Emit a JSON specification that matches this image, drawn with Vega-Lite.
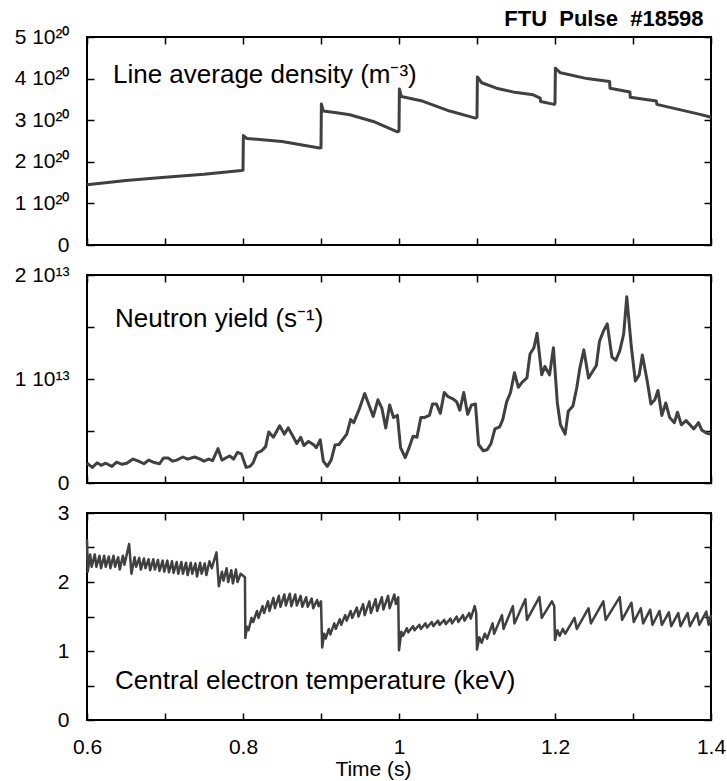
{
  "$schema": "https://vega.github.io/schema/vega-lite/v6.json",
  "background": "white",
  "padding": {"left": 13, "top": 8, "right": 10, "bottom": 2},
  "config": {
    "font": "Liberation Sans",
    "view": {"stroke": "black", "strokeWidth": 2},
    "axis": {"grid": false, "domain": false, "tickColor": "black", "tickWidth": 1.5, "tickSize": -7, "labelFlush": false,
      "labelFont": "Liberation Sans", "labelFontSize": 21, "labelColor": "black",
      "titleFont": "Liberation Sans", "titleFontWeight": "normal", "titleFontSize": 21, "titleColor": "black"}
  },
  "title": {"text": "FTU\u00a0\u00a0Pulse\u00a0\u00a0#18598", "anchor": "end", "fontSize": 22, "fontWeight": "bold", "font": "Liberation Sans", "color": "black", "offset": -6, "dx": -23},
  "spacing": 30,
  "bounds": "flush",
  "datasets": {
    "density": [
      {"t": 0.6, "v": 1.45e20}, {"t": 0.65, "v": 1.55e20}, {"t": 0.7, "v": 1.63e20}, {"t": 0.75, "v": 1.70e20},
      {"t": 0.798, "v": 1.79e20}, {"t": 0.8, "v": 1.80e20}, {"t": 0.8005, "v": 2.63e20}, {"t": 0.805, "v": 2.56e20},
      {"t": 0.85, "v": 2.49e20}, {"t": 0.898, "v": 2.33e20}, {"t": 0.9, "v": 2.34e20}, {"t": 0.9005, "v": 3.39e20},
      {"t": 0.903, "v": 3.22e20}, {"t": 0.92, "v": 3.18e20}, {"t": 0.937, "v": 3.13e20}, {"t": 0.967, "v": 2.97e20},
      {"t": 0.998, "v": 2.72e20}, {"t": 1.0, "v": 2.74e20}, {"t": 1.0005, "v": 3.75e20}, {"t": 1.003, "v": 3.57e20},
      {"t": 1.03, "v": 3.46e20}, {"t": 1.065, "v": 3.22e20}, {"t": 1.098, "v": 3.05e20}, {"t": 1.1, "v": 3.07e20},
      {"t": 1.1005, "v": 4.04e20}, {"t": 1.106, "v": 3.9e20}, {"t": 1.125, "v": 3.77e20}, {"t": 1.146, "v": 3.68e20},
      {"t": 1.172, "v": 3.61e20}, {"t": 1.181, "v": 3.53e20}, {"t": 1.1815, "v": 3.45e20}, {"t": 1.199, "v": 3.38e20},
      {"t": 1.2, "v": 3.40e20}, {"t": 1.2005, "v": 4.25e20}, {"t": 1.207, "v": 4.14e20}, {"t": 1.241, "v": 4.0e20},
      {"t": 1.27, "v": 3.93e20}, {"t": 1.2705, "v": 3.77e20}, {"t": 1.296, "v": 3.68e20}, {"t": 1.2965, "v": 3.55e20},
      {"t": 1.33, "v": 3.46e20}, {"t": 1.3305, "v": 3.38e20}, {"t": 1.386, "v": 3.14e20}, {"t": 1.4, "v": 3.07e20}
    ],
    "neutron": [
      {"t": 0.600, "v": 1.9e12}, {"t": 0.607, "v": 1.5e12}, {"t": 0.613, "v": 1.95e12}, {"t": 0.618, "v": 1.7e12},
      {"t": 0.624, "v": 1.9e12}, {"t": 0.632, "v": 1.6e12}, {"t": 0.638, "v": 2.0e12}, {"t": 0.645, "v": 1.8e12},
      {"t": 0.651, "v": 1.9e12}, {"t": 0.659, "v": 2.3e12}, {"t": 0.666, "v": 2.1e12}, {"t": 0.673, "v": 1.85e12},
      {"t": 0.679, "v": 2.2e12}, {"t": 0.685, "v": 2.0e12}, {"t": 0.693, "v": 1.85e12}, {"t": 0.698, "v": 2.4e12},
      {"t": 0.704, "v": 2.4e12}, {"t": 0.710, "v": 2.1e12}, {"t": 0.715, "v": 2.2e12}, {"t": 0.723, "v": 2.5e12},
      {"t": 0.729, "v": 2.3e12}, {"t": 0.738, "v": 2.5e12}, {"t": 0.745, "v": 2.3e12}, {"t": 0.750, "v": 2.1e12},
      {"t": 0.756, "v": 2.3e12}, {"t": 0.761, "v": 2.15e12}, {"t": 0.768, "v": 3.3e12}, {"t": 0.773, "v": 2.2e12},
      {"t": 0.779, "v": 2.45e12}, {"t": 0.783, "v": 2.6e12}, {"t": 0.788, "v": 2.3e12}, {"t": 0.793, "v": 2.95e12},
      {"t": 0.798, "v": 2.8e12}, {"t": 0.804, "v": 1.5e12}, {"t": 0.809, "v": 1.6e12}, {"t": 0.813, "v": 1.95e12},
      {"t": 0.818, "v": 2.9e12}, {"t": 0.824, "v": 3.1e12}, {"t": 0.829, "v": 3.5e12}, {"t": 0.833, "v": 4.9e12},
      {"t": 0.839, "v": 4.4e12}, {"t": 0.847, "v": 5.5e12}, {"t": 0.853, "v": 4.7e12}, {"t": 0.858, "v": 5.3e12},
      {"t": 0.864, "v": 4.5e12}, {"t": 0.869, "v": 3.8e12}, {"t": 0.874, "v": 4.4e12}, {"t": 0.878, "v": 3.6e12},
      {"t": 0.884, "v": 4.0e12}, {"t": 0.891, "v": 3.65e12}, {"t": 0.894, "v": 3.4e12}, {"t": 0.899, "v": 4.15e12},
      {"t": 0.903, "v": 2.1e12}, {"t": 0.908, "v": 1.6e12}, {"t": 0.913, "v": 2.2e12}, {"t": 0.918, "v": 3.65e12},
      {"t": 0.923, "v": 3.7e12}, {"t": 0.933, "v": 4.7e12}, {"t": 0.938, "v": 6.1e12}, {"t": 0.942, "v": 5.8e12},
      {"t": 0.949, "v": 7.1e12}, {"t": 0.956, "v": 8.6e12}, {"t": 0.962, "v": 7.4e12}, {"t": 0.967, "v": 6.4e12},
      {"t": 0.973, "v": 8.0e12}, {"t": 0.978, "v": 7.2e12}, {"t": 0.983, "v": 5.3e12}, {"t": 0.988, "v": 7.5e12},
      {"t": 0.993, "v": 6.3e12}, {"t": 0.998, "v": 6.5e12}, {"t": 1.002, "v": 3.4e12}, {"t": 1.008, "v": 2.45e12},
      {"t": 1.013, "v": 3.4e12}, {"t": 1.018, "v": 4.5e12}, {"t": 1.023, "v": 4.4e12}, {"t": 1.028, "v": 6.3e12},
      {"t": 1.033, "v": 6.3e12}, {"t": 1.039, "v": 6.5e12}, {"t": 1.043, "v": 7.6e12}, {"t": 1.048, "v": 7.6e12},
      {"t": 1.053, "v": 6.7e12}, {"t": 1.058, "v": 8.7e12}, {"t": 1.063, "v": 8.3e12}, {"t": 1.069, "v": 8.1e12},
      {"t": 1.074, "v": 7.8e12}, {"t": 1.078, "v": 7.0e12}, {"t": 1.083, "v": 8.7e12}, {"t": 1.088, "v": 6.6e12},
      {"t": 1.093, "v": 7.5e12}, {"t": 1.098, "v": 7.6e12}, {"t": 1.102, "v": 3.7e12}, {"t": 1.108, "v": 3.1e12},
      {"t": 1.113, "v": 3.2e12}, {"t": 1.118, "v": 3.8e12}, {"t": 1.123, "v": 5.2e12}, {"t": 1.129, "v": 5.4e12},
      {"t": 1.133, "v": 6.1e12}, {"t": 1.138, "v": 7.8e12}, {"t": 1.143, "v": 8.7e12}, {"t": 1.148, "v": 1.06e13},
      {"t": 1.153, "v": 9.2e12}, {"t": 1.158, "v": 9.7e12}, {"t": 1.164, "v": 1.01e13}, {"t": 1.168, "v": 1.24e13},
      {"t": 1.173, "v": 1.30e13}, {"t": 1.177, "v": 1.44e13}, {"t": 1.183, "v": 1.04e13}, {"t": 1.187, "v": 1.12e13},
      {"t": 1.193, "v": 1.04e13}, {"t": 1.198, "v": 1.30e13}, {"t": 1.203, "v": 7.7e12}, {"t": 1.207, "v": 5.6e12},
      {"t": 1.213, "v": 4.7e12}, {"t": 1.217, "v": 6.9e12}, {"t": 1.223, "v": 7.4e12}, {"t": 1.228, "v": 9.2e12},
      {"t": 1.232, "v": 1.11e13}, {"t": 1.237, "v": 1.28e13}, {"t": 1.243, "v": 1.01e13}, {"t": 1.248, "v": 1.07e13},
      {"t": 1.253, "v": 1.13e13}, {"t": 1.257, "v": 1.36e13}, {"t": 1.262, "v": 1.46e13}, {"t": 1.267, "v": 1.53e13},
      {"t": 1.273, "v": 1.21e13}, {"t": 1.278, "v": 1.18e13}, {"t": 1.283, "v": 1.27e13}, {"t": 1.288, "v": 1.43e13},
      {"t": 1.292, "v": 1.79e13}, {"t": 1.298, "v": 1.30e13}, {"t": 1.303, "v": 9.8e12}, {"t": 1.308, "v": 1.04e13},
      {"t": 1.312, "v": 1.23e13}, {"t": 1.318, "v": 9.9e12}, {"t": 1.323, "v": 7.6e12}, {"t": 1.328, "v": 8.0e12},
      {"t": 1.332, "v": 8.9e12}, {"t": 1.337, "v": 6.5e12}, {"t": 1.342, "v": 7.7e12}, {"t": 1.347, "v": 6.3e12},
      {"t": 1.353, "v": 5.8e12}, {"t": 1.357, "v": 6.8e12}, {"t": 1.362, "v": 5.6e12}, {"t": 1.368, "v": 6.0e12},
      {"t": 1.373, "v": 5.6e12}, {"t": 1.378, "v": 5.2e12}, {"t": 1.384, "v": 5.8e12}, {"t": 1.388, "v": 5.1e12},
      {"t": 1.394, "v": 4.8e12}, {"t": 1.399, "v": 4.7e12}
    ],
    "temperature": [
      {"t": 0.600, "v": 2.62}, {"t": 0.601, "v": 2.15}, {"t": 0.604, "v": 2.40}, {"t": 0.606, "v": 2.22},
      {"t": 0.610, "v": 2.40}, {"t": 0.612, "v": 2.22}, {"t": 0.616, "v": 2.38}, {"t": 0.618, "v": 2.20},
      {"t": 0.622, "v": 2.38}, {"t": 0.624, "v": 2.22}, {"t": 0.628, "v": 2.37}, {"t": 0.630, "v": 2.20},
      {"t": 0.634, "v": 2.38}, {"t": 0.636, "v": 2.22}, {"t": 0.640, "v": 2.36}, {"t": 0.642, "v": 2.18},
      {"t": 0.646, "v": 2.38}, {"t": 0.648, "v": 2.25}, {"t": 0.654, "v": 2.55}, {"t": 0.657, "v": 2.12},
      {"t": 0.661, "v": 2.36}, {"t": 0.663, "v": 2.22}, {"t": 0.667, "v": 2.35}, {"t": 0.669, "v": 2.18},
      {"t": 0.673, "v": 2.34}, {"t": 0.675, "v": 2.20}, {"t": 0.679, "v": 2.33}, {"t": 0.681, "v": 2.17},
      {"t": 0.685, "v": 2.33}, {"t": 0.687, "v": 2.18}, {"t": 0.691, "v": 2.32}, {"t": 0.693, "v": 2.16},
      {"t": 0.697, "v": 2.31}, {"t": 0.699, "v": 2.15}, {"t": 0.703, "v": 2.31}, {"t": 0.705, "v": 2.14},
      {"t": 0.709, "v": 2.30}, {"t": 0.711, "v": 2.13}, {"t": 0.715, "v": 2.29}, {"t": 0.717, "v": 2.12},
      {"t": 0.721, "v": 2.29}, {"t": 0.723, "v": 2.12}, {"t": 0.727, "v": 2.28}, {"t": 0.729, "v": 2.10},
      {"t": 0.733, "v": 2.28}, {"t": 0.735, "v": 2.12}, {"t": 0.739, "v": 2.27}, {"t": 0.741, "v": 2.08},
      {"t": 0.745, "v": 2.28}, {"t": 0.747, "v": 2.12}, {"t": 0.751, "v": 2.27}, {"t": 0.753, "v": 2.10},
      {"t": 0.757, "v": 2.30}, {"t": 0.760, "v": 2.20}, {"t": 0.766, "v": 2.43}, {"t": 0.769, "v": 1.94},
      {"t": 0.773, "v": 2.15}, {"t": 0.775, "v": 2.02}, {"t": 0.779, "v": 2.20}, {"t": 0.781, "v": 2.00},
      {"t": 0.785, "v": 2.17}, {"t": 0.787, "v": 1.98}, {"t": 0.791, "v": 2.18}, {"t": 0.793, "v": 2.00},
      {"t": 0.797, "v": 2.12}, {"t": 0.8025, "v": 2.07}, {"t": 0.803, "v": 1.19}, {"t": 0.805, "v": 1.35},
      {"t": 0.807, "v": 1.30}, {"t": 0.811, "v": 1.48}, {"t": 0.813, "v": 1.42}, {"t": 0.818, "v": 1.58},
      {"t": 0.820, "v": 1.48}, {"t": 0.825, "v": 1.65}, {"t": 0.827, "v": 1.55}, {"t": 0.832, "v": 1.72},
      {"t": 0.834, "v": 1.58}, {"t": 0.839, "v": 1.77}, {"t": 0.841, "v": 1.62}, {"t": 0.846, "v": 1.80},
      {"t": 0.848, "v": 1.64}, {"t": 0.853, "v": 1.82}, {"t": 0.855, "v": 1.66}, {"t": 0.860, "v": 1.83},
      {"t": 0.862, "v": 1.65}, {"t": 0.867, "v": 1.82}, {"t": 0.869, "v": 1.66}, {"t": 0.874, "v": 1.80},
      {"t": 0.876, "v": 1.64}, {"t": 0.881, "v": 1.78}, {"t": 0.883, "v": 1.64}, {"t": 0.888, "v": 1.76},
      {"t": 0.890, "v": 1.62}, {"t": 0.895, "v": 1.74}, {"t": 0.897, "v": 1.65}, {"t": 0.900, "v": 1.72},
      {"t": 0.9015, "v": 1.05}, {"t": 0.904, "v": 1.25}, {"t": 0.906, "v": 1.18}, {"t": 0.910, "v": 1.32},
      {"t": 0.912, "v": 1.24}, {"t": 0.917, "v": 1.40}, {"t": 0.919, "v": 1.32}, {"t": 0.924, "v": 1.46},
      {"t": 0.926, "v": 1.38}, {"t": 0.931, "v": 1.52}, {"t": 0.933, "v": 1.44}, {"t": 0.938, "v": 1.58},
      {"t": 0.940, "v": 1.48}, {"t": 0.946, "v": 1.63}, {"t": 0.948, "v": 1.50}, {"t": 0.954, "v": 1.68},
      {"t": 0.956, "v": 1.52}, {"t": 0.962, "v": 1.72}, {"t": 0.964, "v": 1.55}, {"t": 0.970, "v": 1.75},
      {"t": 0.972, "v": 1.58}, {"t": 0.978, "v": 1.78}, {"t": 0.980, "v": 1.60}, {"t": 0.986, "v": 1.80},
      {"t": 0.988, "v": 1.62}, {"t": 0.994, "v": 1.82}, {"t": 0.996, "v": 1.68}, {"t": 0.999, "v": 1.78},
      {"t": 1.000, "v": 1.01}, {"t": 1.003, "v": 1.28}, {"t": 1.005, "v": 1.22}, {"t": 1.010, "v": 1.33},
      {"t": 1.012, "v": 1.27}, {"t": 1.018, "v": 1.36}, {"t": 1.020, "v": 1.30}, {"t": 1.026, "v": 1.38},
      {"t": 1.028, "v": 1.32}, {"t": 1.034, "v": 1.40}, {"t": 1.036, "v": 1.34}, {"t": 1.042, "v": 1.42},
      {"t": 1.044, "v": 1.36}, {"t": 1.050, "v": 1.44}, {"t": 1.052, "v": 1.38}, {"t": 1.058, "v": 1.45},
      {"t": 1.060, "v": 1.39}, {"t": 1.066, "v": 1.47}, {"t": 1.068, "v": 1.40}, {"t": 1.074, "v": 1.50},
      {"t": 1.076, "v": 1.42}, {"t": 1.082, "v": 1.52}, {"t": 1.084, "v": 1.44}, {"t": 1.090, "v": 1.55},
      {"t": 1.092, "v": 1.47}, {"t": 1.097, "v": 1.65}, {"t": 1.099, "v": 1.55}, {"t": 1.100, "v": 1.02},
      {"t": 1.103, "v": 1.20}, {"t": 1.106, "v": 1.12}, {"t": 1.110, "v": 1.25}, {"t": 1.113, "v": 1.18},
      {"t": 1.120, "v": 1.40}, {"t": 1.122, "v": 1.25}, {"t": 1.132, "v": 1.52}, {"t": 1.134, "v": 1.32},
      {"t": 1.146, "v": 1.65}, {"t": 1.148, "v": 1.40}, {"t": 1.162, "v": 1.75}, {"t": 1.164, "v": 1.45},
      {"t": 1.180, "v": 1.78}, {"t": 1.183, "v": 1.48}, {"t": 1.196, "v": 1.72}, {"t": 1.199, "v": 1.65},
      {"t": 1.200, "v": 1.16}, {"t": 1.203, "v": 1.30}, {"t": 1.206, "v": 1.22}, {"t": 1.210, "v": 1.32},
      {"t": 1.213, "v": 1.25}, {"t": 1.225, "v": 1.48}, {"t": 1.228, "v": 1.32}, {"t": 1.243, "v": 1.62},
      {"t": 1.246, "v": 1.40}, {"t": 1.262, "v": 1.72}, {"t": 1.265, "v": 1.45}, {"t": 1.283, "v": 1.78},
      {"t": 1.286, "v": 1.45}, {"t": 1.298, "v": 1.70}, {"t": 1.301, "v": 1.42}, {"t": 1.310, "v": 1.62},
      {"t": 1.313, "v": 1.40}, {"t": 1.322, "v": 1.60}, {"t": 1.325, "v": 1.38}, {"t": 1.334, "v": 1.58},
      {"t": 1.337, "v": 1.38}, {"t": 1.346, "v": 1.56}, {"t": 1.349, "v": 1.36}, {"t": 1.358, "v": 1.55},
      {"t": 1.361, "v": 1.36}, {"t": 1.370, "v": 1.55}, {"t": 1.373, "v": 1.36}, {"t": 1.382, "v": 1.55},
      {"t": 1.385, "v": 1.38}, {"t": 1.394, "v": 1.57}, {"t": 1.397, "v": 1.38}, {"t": 1.400, "v": 1.52}
    ]
  },
  "vconcat": [
    {
      "width": 624, "height": 208,
      "resolve": {"axis": {"x": "independent", "y": "independent"}},
      "layer": [
        {
          "data": {"name": "density"},
          "mark": {"type": "line", "color": "#404040", "strokeWidth": 3, "strokeJoin": "round"},
          "encoding": {
            "x": {"field": "t", "type": "quantitative", "scale": {"domain": [0.6, 1.4], "nice": false, "zero": false},
              "axis": {"orient": "bottom", "values": [0.6, 0.7, 0.8, 0.9, 1.0, 1.1, 1.2, 1.3, 1.4], "labels": false, "title": null}},
            "y": {"field": "v", "type": "quantitative", "scale": {"domain": [0, 5e20], "nice": false},
              "axis": {"orient": "left", "values": [0, 1e20, 2e20, 3e20, 4e20, 5e20], "title": null, "labelPadding": 25,
                "labelExpr": "datum.value == 0 ? '0' : format(datum.value / 1e20, 'd') + ' 10²⁰'"}}
          }
        },
        {
          "data": {"values": [{}]},
          "mark": {"type": "text", "align": "left", "baseline": "alphabetic", "fontSize": 26, "font": "Liberation Sans", "color": "black"},
          "encoding": {
            "x": {"datum": 0.6333, "type": "quantitative",
              "axis": {"orient": "top", "values": [0.6, 0.7, 0.8, 0.9, 1.0, 1.1, 1.2, 1.3, 1.4], "labels": false, "title": null}},
            "y": {"datum": 3.894e20, "type": "quantitative",
              "axis": {"orient": "right", "values": [0, 1e20, 2e20, 3e20, 4e20, 5e20], "labels": false, "title": null}},
            "text": {"value": "Line average density (m⁻³)"}
          }
        }
      ]
    },
    {
      "width": 624, "height": 208,
      "resolve": {"axis": {"x": "independent", "y": "independent"}},
      "layer": [
        {
          "data": {"name": "neutron"},
          "mark": {"type": "line", "color": "#404040", "strokeWidth": 3, "strokeJoin": "round"},
          "encoding": {
            "x": {"field": "t", "type": "quantitative", "scale": {"domain": [0.6, 1.4], "nice": false, "zero": false},
              "axis": {"orient": "bottom", "values": [0.6, 0.7, 0.8, 0.9, 1.0, 1.1, 1.2, 1.3, 1.4], "labels": false, "title": null}},
            "y": {"field": "v", "type": "quantitative", "scale": {"domain": [0, 2e13], "nice": false},
              "axis": {"orient": "left", "values": [0, 5e12, 1e13, 1.5e13, 2e13], "title": null, "labelPadding": 25,
                "labelExpr": "datum.value == 0 ? '0' : (round(datum.value / 5e12) % 2 == 0 ? format(datum.value / 1e13, 'd') + ' 10¹³' : '')"}}
          }
        },
        {
          "data": {"values": [{}]},
          "mark": {"type": "text", "align": "left", "baseline": "alphabetic", "fontSize": 26, "font": "Liberation Sans", "color": "black"},
          "encoding": {
            "x": {"datum": 0.6359, "type": "quantitative",
              "axis": {"orient": "top", "values": [0.6, 0.7, 0.8, 0.9, 1.0, 1.1, 1.2, 1.3, 1.4], "labels": false, "title": null}},
            "y": {"datum": 1.5e13, "type": "quantitative",
              "axis": {"orient": "right", "values": [0, 5e12, 1e13, 1.5e13, 2e13], "labels": false, "title": null}},
            "text": {"value": "Neutron yield (s⁻¹)"}
          }
        }
      ]
    },
    {
      "width": 624, "height": 207,
      "resolve": {"axis": {"x": "independent", "y": "independent"}},
      "layer": [
        {
          "data": {"name": "temperature"},
          "mark": {"type": "line", "color": "#404040", "strokeWidth": 2.5, "strokeJoin": "round"},
          "encoding": {
            "x": {"field": "t", "type": "quantitative", "scale": {"domain": [0.6, 1.4], "nice": false, "zero": false},
              "axis": {"orient": "bottom", "values": [0.6, 0.7, 0.8, 0.9, 1.0, 1.1, 1.2, 1.3, 1.4], "format": "~g", "labelPadding": 23,
                "labelExpr": "round(datum.value * 10) % 2 == 0 ? datum.label : ''",
                "title": "Time (s)", "titleX": 286, "titleY": 55, "titleBaseline": "alphabetic", "titleAlign": "center"}},
            "y": {"field": "v", "type": "quantitative", "scale": {"domain": [0, 3], "nice": false},
              "axis": {"orient": "left", "values": [0, 0.5, 1, 1.5, 2, 2.5, 3], "title": null, "labelPadding": 25,
                "labelExpr": "datum.value % 1 == 0 ? format(datum.value, 'd') : ''"}}
          }
        },
        {
          "data": {"values": [{}]},
          "mark": {"type": "text", "align": "left", "baseline": "alphabetic", "fontSize": 26, "font": "Liberation Sans", "color": "black"},
          "encoding": {
            "x": {"datum": 0.636, "type": "quantitative",
              "axis": {"orient": "top", "values": [0.6, 0.7, 0.8, 0.9, 1.0, 1.1, 1.2, 1.3, 1.4], "labels": false, "title": null}},
            "y": {"datum": 0.449, "type": "quantitative",
              "axis": {"orient": "right", "values": [0, 0.5, 1, 1.5, 2, 2.5, 3], "labels": false, "title": null}},
            "text": {"value": "Central electron temperature (keV)"}
          }
        }
      ]
    }
  ]
}
